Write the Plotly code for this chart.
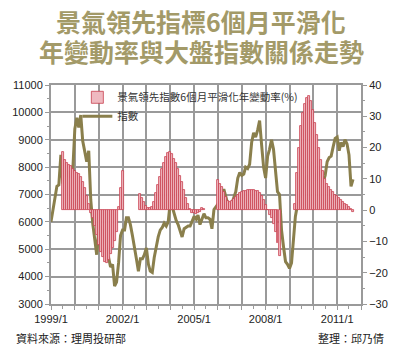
import pandas as pd
import plotly.graph_objects as go

# Monthly observations, 1999/1 .. 2011/9
start_month = "1999-01-01"

# 6-month smoothed YoY change of the leading indicator (%); None = no bar
lead_yoy = [
    None, None, None, None, None, None, 18.5, 16, 15, 14.5, 14, 13,          # 1999
    12.6, 12, 11.5, 10.5, 9, 7, 4.5, 2, -1, -2.5, -5, -8,                    # 2000
    -11, -13.5, -15, -16.5, -17, -16, -14, -12, -10, -7, 1, 7,               # 2001
    12.6, None, None, None, None, None, None, None, None, 5.2, 3.8, 2.5,     # 2002
    1.2, 0.8, 0.6, 1, 2.5, 5.5, 8, 10.5, 13, 15, 17, 18.3,                   # 2003
    18.5, 17.8, 16.5, 15, 13, 11, 9, 6.5, 4, 2, 0.5, -0.8,                   # 2004
    -1, -1.2, -1, -0.6, 0.8, 0.3, None, None, None, None, None, None,        # 2005
    9.5, 8.5, 7.3, 5.7, 4.2, 3, 2.5, 2.8, 3.5, 4.2, 5, 5.5,                  # 2006
    5.8, 6, 6.2, 6.3, 6.3, 6.3, 6.3, 6.2, 6, 5.5, 4.5, 3.2,                  # 2007
    1.5, 0, -1.5, -2.5, -4.5, -7, -10.5, -14.6, None, None, None, None,      # 2008
    None, None, None, 2, 12, 20, 27, 31, 34, 36, 36.5, 35,                   # 2009
    32, 28, 24, 20, 16, 12.5, 10, 8.3, 7.3, 6.5, 5.7, 5,                     # 2010
    4.4, 3.8, 3.2, 2.7, 2, 1.5, 1, 0.3, -0.6,                                # 2011
]

# Stock index level
index_level = [
    6000, 6400, 6800, 7300, 7350, 8450, 7400, 8150, 7650, 7850, 7600, 7900,  # 1999
    9400, 9800, 9450, 9900, 8950, 8600, 8200, 8600, 6800, 5950, 5300, 4800,  # 2000
    5700, 5800, 5700, 5300, 5000, 4700, 4350, 4450, 3650, 3800, 4500, 5500,  # 2001
    5700, 5700, 6150, 6150, 5900, 5500, 5000, 4650, 4200, 4650, 4650, 4800,  # 2002
    5050, 4450, 4200, 4150, 4700, 5100, 5450, 5700, 5800, 5950, 5850, 6000,  # 2003
    6700, 6550, 6250, 6050, 5900, 5700, 5450, 5750, 5800, 5850, 5850, 6000,  # 2004
    6200, 6100, 6250, 5900, 6100, 6300, 6150, 6150, 6100, 5750, 6450, 6550,  # 2005
    6650, 6700, 6850, 7200, 6900, 6650, 6450, 6700, 6900, 7100, 7600, 7800,  # 2006
    7700, 7750, 8000, 7950, 8100, 8900, 9250, 9100, 9350, 9700, 8800, 8000,  # 2007
    7600, 8400, 8650, 9000, 8650, 7900, 7100, 7000, 5700, 5100, 4550, 4450,  # 2008
    4300, 4500, 5200, 6200, 6600, 6850, 6950, 7200, 7450, 7700, 7500, 8200,  # 2009
    7650, 7750, 7500, 8000, 7700, 7450, 7700, 8200, 8350, 8400, 8750, 9050,  # 2010
    9100, 8600, 8900, 8750, 9000, 8850, 8450, 7300, 7550,                    # 2011
]

months = pd.date_range(start_month, periods=len(index_level), freq="MS")

bar_name = "景氣領先指數6個月平滑化年變動率(%)"
line_name = "指數"

# yearly grid, labels every three years
year_ticks = pd.date_range("1999-01-01", "2012-01-01", freq="YS")
year_text = [f"{d.year}/1" if (d.year - 1999) % 3 == 0 and d.year <= 2011 else "" for d in year_ticks]

grid_color = "#9a9a9a"
bar_edge = "#c8404f"
bar_fill = "#efb9c0"
tick_font = dict(family="Liberation Sans, Arial, sans-serif", size=11, color="#222222")

fig = go.Figure()
# full-month bars: pale fill with a red edge gives the striped look
fig.add_trace(go.Bar(
    x=months, y=lead_yoy, name=bar_name, yaxis="y2",
    width=30.4 * 86400000,
    marker=dict(color=bar_fill, line=dict(width=0.8, color=bar_edge)),
))
fig.add_trace(go.Scatter(
    x=months, y=index_level, name=line_name, mode="lines",
    line=dict(color="#8a7f4c", width=3),
))

fig.update_layout(
    width=400, height=350,
    margin=dict(l=40, r=28, t=85, b=46),
    paper_bgcolor="white", plot_bgcolor="white",
    showlegend=True,
    legend=dict(
        x=0.085, y=1.01, xanchor="left", yanchor="top",
        bgcolor="rgba(0,0,0,0)", font=dict(family="Noto Sans CJK TC", size=10.5, color="#333333"),
        itemwidth=30, tracegroupgap=0,
    ),
    xaxis=dict(
        range=["1999-01-01", "2012-01-01"],
        tickvals=list(year_ticks), ticktext=year_text,
        showgrid=True, gridcolor=grid_color, gridwidth=2,
        showline=True, linecolor=grid_color, linewidth=2, mirror=True,
        ticks="outside", ticklen=4, tickcolor=grid_color,
        minor=dict(dtick="M6", ticks="outside", ticklen=3, tickcolor=grid_color, showgrid=False),
        tickfont=tick_font,
    ),
    yaxis=dict(
        range=[3000, 11000], dtick=1000, tickformat="d",
        showgrid=True, gridcolor=grid_color, gridwidth=2,
        showline=True, linecolor=grid_color, linewidth=2,
        ticks="outside", ticklen=4, tickcolor=grid_color,
        minor=dict(dtick=500, ticks="outside", ticklen=2, tickcolor=grid_color, showgrid=False),
        tickfont=tick_font, zeroline=False,
    ),
    yaxis2=dict(
        range=[-30, 40], dtick=10, overlaying="y", side="right",
        showgrid=False, zeroline=False,
        showline=True, linecolor=grid_color, linewidth=2,
        ticks="outside", ticklen=4, tickcolor=grid_color,
        minor=dict(dtick=5, ticks="outside", ticklen=2, tickcolor=grid_color),
        tickfont=tick_font,
    ),
    bargap=0,
)

title_font = dict(family="Noto Sans CJK TC", size=25, color="#a39a68")
fig.add_annotation(text="<b>景氣領先指標6個月平滑化</b>", xref="paper", yref="paper",
                   x=0.485, y=1, yshift=64, showarrow=False, font=title_font, yanchor="middle")
fig.add_annotation(text="<b>年變動率與大盤指數關係走勢</b>", xref="paper", yref="paper",
                   x=0.485, y=1, yshift=34, showarrow=False, font=title_font, yanchor="middle")

foot_font = dict(family="Noto Sans CJK TC", size=11, color="#222222")
fig.add_annotation(text="資料來源：理周投研部", xref="paper", yref="paper", x=0, xshift=-37,
                   y=0, yshift=-34, xanchor="left", yanchor="middle", showarrow=False, font=foot_font)
fig.add_annotation(text="整理：邱乃倩", xref="paper", yref="paper", x=1, xshift=25,
                   y=0, yshift=-34, xanchor="right", yanchor="middle", showarrow=False, font=foot_font)

fig.write_html("out.html")
